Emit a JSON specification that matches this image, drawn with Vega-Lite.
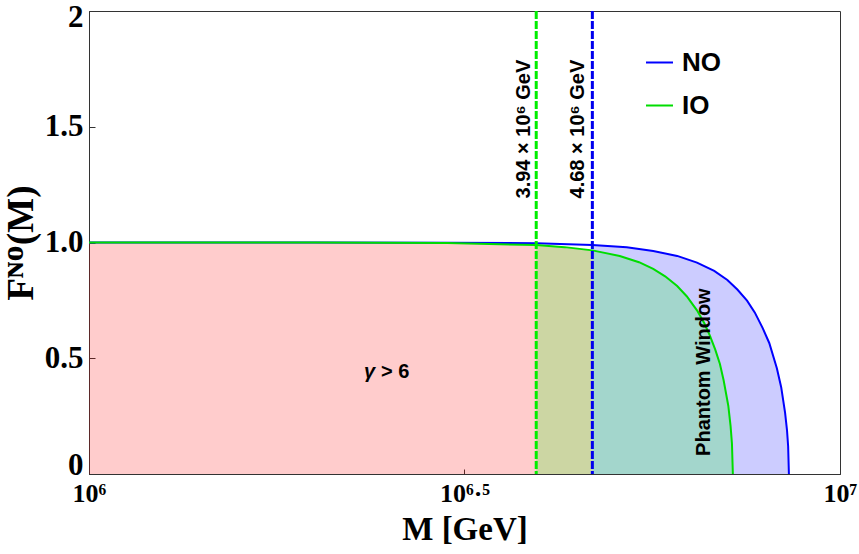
{
  "$schema": "https://vega.github.io/schema/vega-lite/v6.json",
  "width": 751,
  "height": 463,
  "autosize": {"type": "none"},
  "padding": {"left": 89, "top": 11, "right": 19, "bottom": 80},
  "background": "white",
  "config": {
    "view": {"stroke": "#333", "strokeWidth": 1},
    "axis": {
      "grid": false,
      "domainColor": "#333",
      "tickColor": "#333",
      "labelFont": "Liberation Serif",
      "labelFontWeight": "bold",
      "labelColor": "black",
      "titleFont": "Liberation Serif",
      "titleFontWeight": "bold",
      "titleColor": "black"
    },
    "legend": {
      "orient": "none",
      "legendX": 556,
      "legendY": 37,
      "padding": 0,
      "symbolType": "stroke",
      "symbolSize": 729,
      "symbolStrokeWidth": 2,
      "labelFont": "Liberation Sans",
      "labelFontWeight": "bold",
      "labelFontSize": 26,
      "labelColor": "black",
      "labelOffset": 8,
      "rowPadding": 15,
      "title": null
    }
  },
  "datasets": {
    "curves": [
      {"M": 1000000, "F": 1.0, "order": "NO"},
      {"M": 2000000, "F": 1.0, "order": "NO"},
      {"M": 3000000, "F": 0.9994, "order": "NO"},
      {"M": 3940000, "F": 0.9965, "order": "NO"},
      {"M": 4680000, "F": 0.9895, "order": "NO"},
      {"M": 5200000, "F": 0.979, "order": "NO"},
      {"M": 5640000, "F": 0.963, "order": "NO"},
      {"M": 6070000, "F": 0.942, "order": "NO"},
      {"M": 6450000, "F": 0.913, "order": "NO"},
      {"M": 6800000, "F": 0.877, "order": "NO"},
      {"M": 7080000, "F": 0.838, "order": "NO"},
      {"M": 7300000, "F": 0.797, "order": "NO"},
      {"M": 7520000, "F": 0.749, "order": "NO"},
      {"M": 7700000, "F": 0.698, "order": "NO"},
      {"M": 7890000, "F": 0.630, "order": "NO"},
      {"M": 8050000, "F": 0.566, "order": "NO"},
      {"M": 8240000, "F": 0.457, "order": "NO"},
      {"M": 8350000, "F": 0.375, "order": "NO"},
      {"M": 8450000, "F": 0.265, "order": "NO"},
      {"M": 8500000, "F": 0.19, "order": "NO"},
      {"M": 8530000, "F": 0.12, "order": "NO"},
      {"M": 8550000, "F": 0.0, "order": "NO"},
      {"M": 1000000, "F": 1.0, "order": "IO"},
      {"M": 2000000, "F": 0.9998, "order": "IO"},
      {"M": 3000000, "F": 0.998, "order": "IO"},
      {"M": 3940000, "F": 0.9887, "order": "IO"},
      {"M": 4300000, "F": 0.980, "order": "IO"},
      {"M": 4680000, "F": 0.966, "order": "IO"},
      {"M": 5090000, "F": 0.942, "order": "IO"},
      {"M": 5400000, "F": 0.915, "order": "IO"},
      {"M": 5640000, "F": 0.886, "order": "IO"},
      {"M": 5850000, "F": 0.854, "order": "IO"},
      {"M": 6070000, "F": 0.812, "order": "IO"},
      {"M": 6250000, "F": 0.768, "order": "IO"},
      {"M": 6450000, "F": 0.707, "order": "IO"},
      {"M": 6600000, "F": 0.650, "order": "IO"},
      {"M": 6710000, "F": 0.598, "order": "IO"},
      {"M": 6820000, "F": 0.538, "order": "IO"},
      {"M": 6920000, "F": 0.475, "order": "IO"},
      {"M": 7000000, "F": 0.404, "order": "IO"},
      {"M": 7100000, "F": 0.295, "order": "IO"},
      {"M": 7150000, "F": 0.207, "order": "IO"},
      {"M": 7180000, "F": 0.132, "order": "IO"},
      {"M": 7200000, "F": 0.0, "order": "IO"}
    ],
    "vlines": [
      {"M": 3940000, "order": "IO"},
      {"M": 4680000, "order": "NO"}
    ],
    "notes": [
      {"M": 3790000, "F": 1.49, "note": "3.94 × 10⁶ GeV", "kind": "rotated"},
      {"M": 4480000, "F": 1.49, "note": "4.68 × 10⁶ GeV", "kind": "rotated"},
      {"M": 6590000, "F": 0.44, "note": "Phantom Window", "kind": "rotated"},
      {"M": 2404000, "F": 0.44, "note": "γ", "kind": "italic"},
      {"M": 2404000, "F": 0.44, "note": "> 6", "kind": "flat"}
    ]
  },
  "encoding": {
    "x": {
      "field": "M",
      "type": "quantitative",
      "scale": {"type": "log", "domain": [1000000, 10000000], "nice": false},
      "axis": {
        "title": "M [GeV]",
        "values": [1000000, 3162277.66, 10000000],
        "labelExpr": "datum.value < 2000000 ? '10⁶' : (datum.value > 5000000 ? '10⁷' : '10⁶·⁵')",
        "tickSize": -5,
        "labelPadding": 11,
        "labelFontSize": 26,
        "labelFlush": false,
        "labelOverlap": false,
        "titleFontSize": 33,
        "titlePadding": 7
      }
    }
  },
  "layer": [
    {
      "data": {"name": "curves"},
      "transform": [{"filter": "datum.order == 'IO' && datum.M <= 4680000"}],
      "mark": {"type": "area", "color": "#ff0000", "opacity": 0.2},
      "encoding": {
        "y": {
          "field": "F",
          "type": "quantitative",
          "scale": {"domain": [0, 2], "nice": false},
          "axis": {
            "title": "Fᴺᴼ(M)",
            "values": [0, 0.5, 1, 1.5, 2],
            "labelExpr": "datum.value == 1 ? '1.0' : '' + datum.value",
            "labelBaseline": {"condition": {"test": "datum.value == 0", "value": "alphabetic"}, "value": "middle"},
            "labelOffset": {"condition": {"test": "datum.value == 2", "value": 6}, "value": 0},
            "tickSize": -6,
            "labelPadding": 12,
            "labelFontSize": 31,
            "labelFlush": false,
            "labelOverlap": false,
            "titleFontSize": 37,
            "titlePadding": 4
          }
        }
      }
    },
    {
      "data": {"name": "curves"},
      "transform": [{"filter": "datum.order == 'NO' && datum.M >= 4680000"}],
      "mark": {"type": "area", "color": "#0000ff", "opacity": 0.2},
      "encoding": {"y": {"field": "F", "type": "quantitative"}}
    },
    {
      "data": {"name": "curves"},
      "transform": [{"filter": "datum.order == 'IO' && datum.M >= 3940000"}],
      "mark": {"type": "area", "color": "#00ff00", "opacity": 0.2},
      "encoding": {"y": {"field": "F", "type": "quantitative"}}
    },
    {
      "data": {"name": "curves"},
      "mark": {"type": "line", "strokeWidth": 2},
      "encoding": {
        "y": {"field": "F", "type": "quantitative"},
        "color": {
          "field": "order",
          "type": "nominal",
          "scale": {"domain": ["NO", "IO"], "range": ["#0000ff", "#00dd00"]},
          "legend": {"title": null}
        }
      }
    },
    {
      "data": {"name": "vlines"},
      "transform": [{"filter": "datum.order == 'IO'"}],
      "mark": {"type": "rule", "color": "#00ee00", "strokeWidth": 3, "strokeDash": [8, 2]},
      "encoding": {}
    },
    {
      "data": {"name": "vlines"},
      "transform": [{"filter": "datum.order == 'NO'"}],
      "mark": {"type": "rule", "color": "#0000ee", "strokeWidth": 3, "strokeDash": [8, 2]},
      "encoding": {}
    },
    {
      "data": {"name": "notes"},
      "transform": [{"filter": "datum.kind == 'rotated'"}],
      "mark": {"type": "text", "angle": 270, "align": "center", "baseline": "middle", "font": "Liberation Sans", "fontWeight": "bold", "fontSize": 20, "color": "black"},
      "encoding": {"y": {"field": "F", "type": "quantitative"}, "text": {"field": "note"}}
    },
    {
      "data": {"name": "notes"},
      "transform": [{"filter": "datum.kind == 'italic'"}],
      "mark": {"type": "text", "align": "right", "baseline": "middle", "font": "Liberation Sans", "fontWeight": "bold", "fontStyle": "italic", "fontSize": 20, "color": "black"},
      "encoding": {"y": {"field": "F", "type": "quantitative"}, "text": {"field": "note"}}
    },
    {
      "data": {"name": "notes"},
      "transform": [{"filter": "datum.kind == 'flat'"}],
      "mark": {"type": "text", "align": "left", "baseline": "middle", "dx": 6, "font": "Liberation Sans", "fontWeight": "bold", "fontSize": 20, "color": "black"},
      "encoding": {"y": {"field": "F", "type": "quantitative"}, "text": {"field": "note"}}
    }
  ]
}
